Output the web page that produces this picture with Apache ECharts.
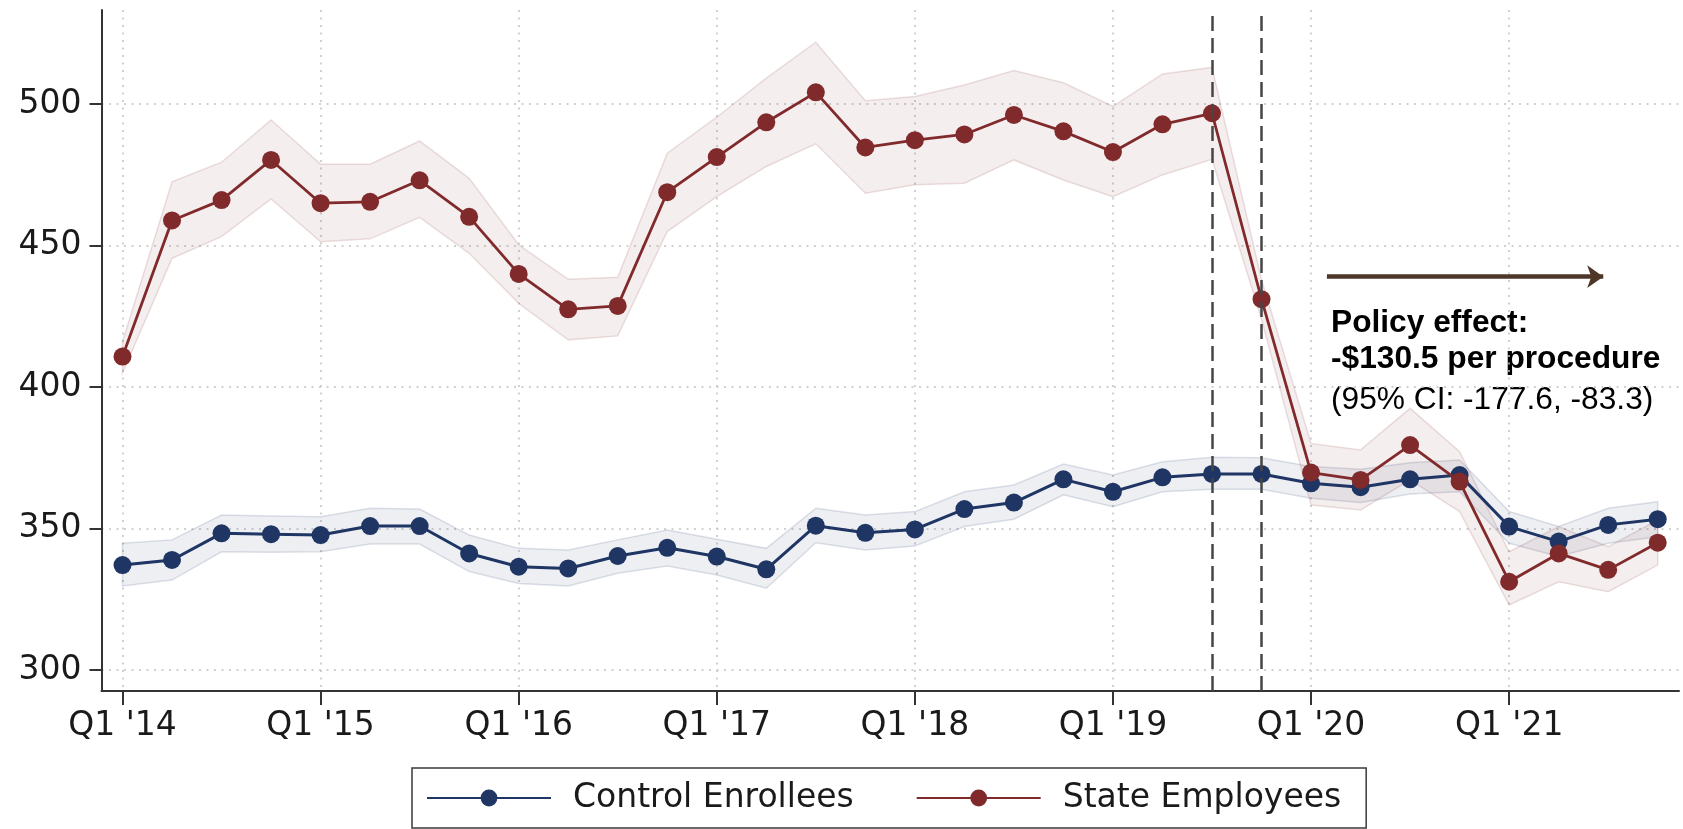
<!DOCTYPE html>
<html>
<head>
<meta charset="utf-8">
<script src="https://cdn.jsdelivr.net/npm/echarts@6/dist/echarts.min.js"></script>
<style>
  html, body { margin: 0; padding: 0; background: #ffffff; }
  #chart { width: 1683px; height: 829px; }
</style>
</head>
<body>
<div id="chart"></div>
<script>
// Quarterly average price per procedure, 2014–2021
const quarters = [
  "Q1 '14", "Q2 '14", "Q3 '14", "Q4 '14",
  "Q1 '15", "Q2 '15", "Q3 '15", "Q4 '15",
  "Q1 '16", "Q2 '16", "Q3 '16", "Q4 '16",
  "Q1 '17", "Q2 '17", "Q3 '17", "Q4 '17",
  "Q1 '18", "Q2 '18", "Q3 '18", "Q4 '18",
  "Q1 '19", "Q2 '19", "Q3 '19", "Q4 '19",
  "Q1 '20", "Q2 '20", "Q3 '20", "Q4 '20",
  "Q1 '21", "Q2 '21", "Q3 '21", "Q4 '21"
];

const controlMean = [337.1, 338.9, 348.3, 348.0, 347.7, 350.9, 350.9, 341.2,
                     336.5, 335.9, 340.3, 343.2, 340.1, 335.6, 351.0, 348.5,
                     349.7, 356.9, 359.2, 367.4, 363.0, 368.1, 369.3, 369.3,
                     366.0, 364.6, 367.4, 368.9, 350.7, 345.4, 351.3, 353.3];
const controlLow  = [329.7, 331.8, 341.8, 341.6, 341.8, 344.5, 344.5, 334.8,
                     330.6, 329.7, 334.2, 336.8, 333.6, 328.9, 345.0, 342.4,
                     343.8, 350.7, 353.3, 361.9, 357.7, 363.0, 363.9, 363.9,
                     360.7, 359.2, 362.2, 363.0, 344.8, 340.1, 344.8, 347.1];
const controlHigh = [344.8, 346.0, 354.8, 354.4, 354.2, 357.2, 356.9, 347.7,
                     343.0, 342.4, 346.0, 349.5, 346.2, 343.0, 357.2, 354.8,
                     356.0, 363.0, 365.4, 372.8, 368.9, 373.6, 375.2, 375.0,
                     371.9, 371.0, 373.3, 374.2, 356.0, 350.7, 357.2, 359.5];

const stateMean = [410.8, 458.9, 466.1, 480.3, 465.0, 465.5, 473.1, 460.2,
                   440.0, 427.5, 428.7, 468.9, 481.3, 493.6, 504.2, 484.7,
                   487.3, 489.3, 496.2, 490.4, 483.1, 492.9, 496.8, 431.1,
                   369.8, 367.2, 379.5, 366.6, 331.2, 341.2, 335.4, 345.0];
const stateLow  = [405.0, 445.5, 453.2, 466.5, 451.4, 452.4, 460.0, 447.3,
                   429.6, 416.7, 418.1, 455.0, 467.3, 478.0, 486.0, 468.5,
                   471.5, 472.1, 480.3, 473.2, 467.3, 475.0, 480.5, 424.0,
                   358.3, 356.6, 367.2, 356.0, 323.0, 331.2, 327.7, 337.1];
const stateHigh = [416.0, 472.6, 479.5, 494.4, 478.8, 478.8, 487.0, 473.8,
                   450.3, 438.1, 438.8, 482.7, 495.4, 509.2, 521.9, 501.2,
                   502.7, 506.8, 511.9, 507.6, 499.2, 510.7, 513.0, 438.0,
                   380.1, 377.8, 392.5, 377.2, 341.8, 350.7, 343.6, 353.0];

const yTicks = [300, 350, 400, 450, 500];

// Policy window (Q3 '19 and Q4 '19) and the effect annotation
const policyQuarters = ["Q3 '19", "Q4 '19"];
const effectArrow = { from: 24.32, to: 29.9, level: 439.05 };
const effectTitle = 'Policy effect:';
const effectValue = '-$130.5 per procedure';
const effectCI = '(95% CI: -177.6, -83.3)';

const RED = '#812a2c';
const BLUE = '#1f3564';
const AXIS = '#333333';
const TEXT = '#1a1a1a';

const xTicks = quarters.map((q, i) => i).filter(i => quarters[i].startsWith('Q1'));
const toPoints = arr => arr.map((v, i) => [i, v]);

// Confidence band: one filled polygon running along the upper bound and back along the lower bound
function bandSeries(name, lo, hi, fill, edge) {
  return {
    name: name, type: 'custom', silent: true, z: 1,
    data: lo.map((v, i) => [i, v, hi[i]]),
    encode: { x: 0, y: [1, 2] },
    renderItem: function (params, api) {
      if (params.dataIndex !== 0) return null;
      const upper = hi.map((v, i) => api.coord([i, v]));
      const lower = lo.map((v, i) => api.coord([i, v])).reverse();
      return {
        type: 'polygon',
        shape: { points: upper.concat(lower) },
        style: { fill: fill, stroke: edge, lineWidth: 1.5 }
      };
    }
  };
}

const chart = echarts.init(document.getElementById('chart'), null, { renderer: 'canvas' });

chart.setOption({
  animation: false,
  backgroundColor: '#ffffff',
  grid: { left: 101.5, right: 4, top: 10, bottom: 138, containLabel: false },
  xAxis: {
    type: 'value',
    min: -0.424,
    max: 31.43,
    axisLine: { show: true, onZero: false, lineStyle: { color: AXIS, width: 2 } },
    axisTick: { show: true, customValues: xTicks, length: 14, lineStyle: { color: AXIS, width: 2 } },
    axisLabel: {
      customValues: xTicks,
      formatter: v => quarters[Math.round(v)] || '',
      margin: 19,
      fontFamily: 'DejaVu Sans', fontSize: 33, color: TEXT
    },
    splitLine: { show: true, lineStyle: { color: '#c2c2c2', width: 1.5, type: [2, 5.5] } }
  },
  yAxis: {
    type: 'value',
    min: 292.58,
    max: 533.3,
    axisLine: { show: true, onZero: false, lineStyle: { color: AXIS, width: 2 } },
    axisTick: { show: true, customValues: yTicks, length: 12, lineStyle: { color: AXIS, width: 2 } },
    axisLabel: {
      customValues: yTicks,
      margin: 20,
      fontFamily: 'DejaVu Sans', fontSize: 33, color: TEXT
    },
    splitLine: { show: true, lineStyle: { color: '#c2c2c2', width: 1.5, type: [2, 5.5] } }
  },
  legend: {
    data: ['Control Enrollees', 'State Employees'],
    left: 412, top: 768,
    orient: 'horizontal',
    padding: [13, 25, 13, 14],
    itemWidth: 124, itemHeight: 21, itemGap: 62,
    borderColor: '#3a3a3a', borderWidth: 1.5, borderRadius: 0,
    backgroundColor: '#ffffff',
    textStyle: {
      fontFamily: 'DejaVu Sans', fontSize: 33, color: TEXT,
      lineHeight: 34, padding: [0, 0, 0, 17]
    }
  },
  graphic: [{
    type: 'text',
    left: 1331, top: 307,
    silent: true,
    style: {
      text: '{b|' + effectTitle + '}\n{b|' + effectValue + '}\n{n|' + effectCI + '}',
      rich: {
        b: { fontFamily: 'Liberation Sans', fontWeight: 'bold', fontSize: 31.7, lineHeight: 36.5, fill: '#000000' },
        n: { fontFamily: 'Liberation Sans', fontSize: 31.7, lineHeight: 46, fill: '#000000' }
      }
    }
  }],
  series: [
    bandSeries('Control CI', controlLow, controlHigh, 'rgba(31,53,99,0.08)', 'rgba(31,53,99,0.14)'),
    bandSeries('State CI', stateLow, stateHigh, 'rgba(129,42,44,0.08)', 'rgba(129,42,44,0.14)'),
    {
      name: 'Control Enrollees', type: 'line', data: toPoints(controlMean), z: 3,
      symbol: 'circle', symbolSize: 18,
      lineStyle: { color: BLUE, width: 3 }, itemStyle: { color: BLUE },
      markLine: {
        silent: true, symbol: ['none', 'none'], label: { show: false },
        lineStyle: { color: '#454545', width: 2.5, type: [15, 7] },
        data: policyQuarters.map(q => ({ xAxis: quarters.indexOf(q) }))
      }
    },
    {
      name: 'State Employees', type: 'line', data: toPoints(stateMean), z: 4,
      symbol: 'circle', symbolSize: 18,
      lineStyle: { color: RED, width: 2.8 }, itemStyle: { color: RED },
      markLine: {
        silent: true, symbol: ['none', 'arrow'], symbolSize: [17, 16], label: { show: false },
        lineStyle: { color: '#4e3629', width: 4.5, type: 'solid' },
        data: [[
          { coord: [effectArrow.from, effectArrow.level] },
          { coord: [effectArrow.to, effectArrow.level] }
        ]]
      }
    }
  ]
});
</script>
</body>
</html>
